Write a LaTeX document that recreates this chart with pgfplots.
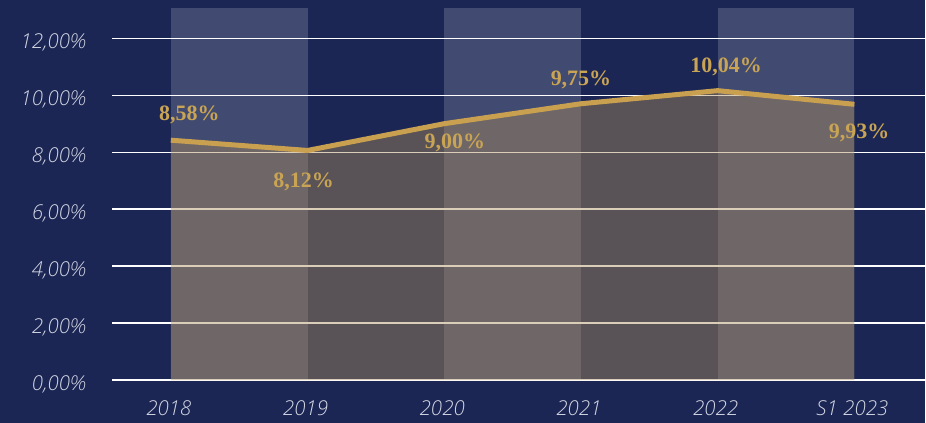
\documentclass[border=0pt]{standalone}
\usepackage{fontspec}
\setmainfont{Open Sans}
\newfontfamily\tickfont{Open Sans Light}[ItalicFont={Open Sans Light Italic}]
\newfontfamily\labelfont{Liberation Serif}
\usepackage{pgfplots}
\pgfplotsset{compat=1.18}
\definecolor{navy}{RGB}{27,38,84}
\definecolor{linegold}{RGB}{200,160,80}
\definecolor{areagold}{RGB}{173,143,93}
\definecolor{labelgold}{RGB}{201,164,84}
\definecolor{tickgray}{RGB}{212,215,228}
\begin{document}
\begin{tikzpicture}
\fill[navy] (0,0) rectangle (926pt,423pt);
\begin{axis}[
  at={(112pt,42.7pt)}, anchor=south west,
  scale only axis, width=814pt, height=373.4pt,
  xmin=-0.431, xmax=5.519, ymin=0, ymax=13.1,
  axis line style={draw=none},
  major tick length=0pt,
  ymajorgrids, grid style={white, line width=1.3pt},
  ytick={0,2,4,6,8,10,12},
  yticklabels={{0,00\%},{2,00\%},{4,00\%},{6,00\%},{8,00\%},{10,00\%},{12,00\%}},
  xtick={0,1,2,3,4,5},
  xticklabels={2018,2019,2020,2021,2022,S1 2023},
  ticklabel style={font=\tickfont\fontsize{20.5}{20.5}\selectfont\itshape, text=tickgray, inner sep=0pt},
  yticklabel style={anchor=east, xshift=-26pt, yshift=-4pt},
  xticklabel style={anchor=north, xshift=-2pt, yshift=-20pt},
  clip=false,
]
% background stripes
\addplot[draw=none, fill=white, fill opacity=0.17] coordinates {(0,13.06) (1,13.06)} \closedcycle;
\addplot[draw=none, fill=white, fill opacity=0.17] coordinates {(2,13.06) (3,13.06)} \closedcycle;
\addplot[draw=none, fill=white, fill opacity=0.17] coordinates {(4,13.06) (5,13.06)} \closedcycle;
% area
\addplot[draw=none, fill=areagold, fill opacity=0.43] coordinates {
(0,8.42) (1,8.06) (2,9.0) (3,9.70) (4,10.16) (5,9.68)} \closedcycle;
% line
\addplot[linegold, line width=5pt, mark=none] coordinates {
(0,8.42) (1,8.06) (2,9.0) (3,9.70) (4,10.16) (5,9.68)};
% data labels
\addplot[draw=none, mark=none, nodes near coords, point meta=explicit symbolic,
  nodes near coords style={anchor=center, inner sep=0pt, text=labelgold,
  font=\labelfont\bfseries\fontsize{22}{22}\selectfont}] coordinates {
(0.135,9.31) [8,58\%]
(0.971,6.94) [8,12\%]
(2.077,8.33) [9,00\%]
(3.0,10.52) [9,75\%]
(4.062,10.99) [10,04\%]
(5.034,8.68) [9,93\%]
};
\end{axis}
\end{tikzpicture}
\end{document}
